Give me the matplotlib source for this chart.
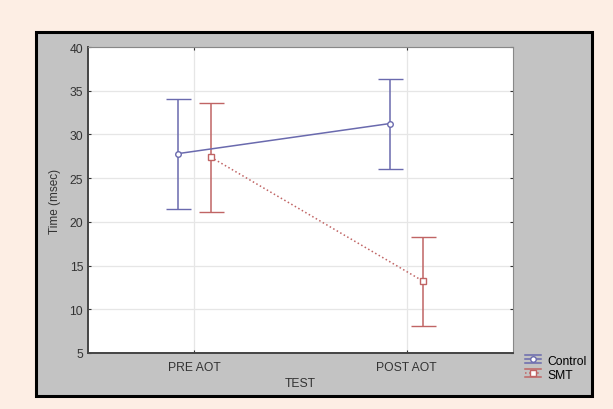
import matplotlib.pyplot as plt
from matplotlib.patches import Rectangle
from matplotlib.legend_handler import HandlerBase
from matplotlib.lines import Line2D
import numpy as np

# data
tests = ["PRE AOT", "POST AOT"]
control_mean = [27.8, 31.25]
control_low = [21.5, 26.1]
control_high = [34.1, 36.3]
smt_mean = [27.4, 13.2]
smt_low = [21.1, 8.05]
smt_high = [33.6, 18.25]
yticks = [5, 10, 15, 20, 25, 30, 35, 40]

plt.rcParams['font.family'] = ['Liberation Sans', 'DejaVu Sans']


class StackedBarHandler(HandlerBase):
    """legend key like the Statistica one: three bars with the marker in the middle"""
    def create_artists(self, legend, orig, xd, yd, w, h, fontsize, trans):
        c = orig.get_color()
        arts = []
        for frac in (0.95, 0.5, 0.05):
            ls = orig.get_linestyle() if frac == 0.5 else '-'
            arts.append(Line2D([xd, xd + w], [yd + h * frac] * 2, color=c, lw=1.1,
                               ls=ls, transform=trans))
        arts.append(Line2D([xd + w / 2], [yd + h / 2], marker=orig.get_marker(), ms=4,
                           mfc='white', mec=c, mew=1.0, ls='none', transform=trans))
        return arts


fig = plt.figure(figsize=(6.13, 4.10), dpi=100)
fig.patch.set_facecolor('#fdeee4')

# grey framed panel behind the plot
panel = Rectangle((0.058, 0.032), 0.908, 0.887, transform=fig.transFigure,
                  facecolor='#c3c3c3', edgecolor='black', linewidth=2.2, zorder=-10)
fig.add_artist(panel)

ax = fig.add_axes([0.1436, 0.1366, 0.6933, 0.7463])
ax.set_facecolor('white')

x = np.arange(len(tests))
off = 0.078
blue = '#6a6aae'
red = '#c06464'

cm = np.array(control_mean)
ctl = ax.errorbar(x - off, cm, yerr=[cm - np.array(control_low), np.array(control_high) - cm],
                  color=blue, lw=1.1, capsize=9, capthick=1.1, marker='o', ms=4,
                  mfc='white', mec=blue, mew=1.0, label='Control')
sm = np.array(smt_mean)
smt = ax.errorbar(x + off, sm, yerr=[sm - np.array(smt_low), np.array(smt_high) - sm],
                  color=red, lw=1.1, ls=':', capsize=9, capthick=1.1, marker='s', ms=4,
                  mfc='white', mec=red, mew=1.0, label='SMT')
smt[2][0].set_linestyle('-')

ax.set_xlim(-0.5, 1.5)
ax.set_ylim(5, 40)
ax.set_xticks(x)
ax.set_xticklabels(tests)
ax.set_yticks(yticks)
ax.grid(True, color='#e6e6e6', lw=0.9)
ax.set_axisbelow(True)
ax.tick_params(labelsize=8.7, colors='#333333', length=2, right=True, top=True, direction='in')
ax.tick_params(axis='x', pad=6)
for s in ['left', 'bottom']:
    ax.spines[s].set_color('#444444')
    ax.spines[s].set_linewidth(1.4)
for s in ['top', 'right']:
    ax.spines[s].set_color('#888888')
    ax.spines[s].set_linewidth(0.8)

ax.set_xlabel("TEST", fontsize=8.7, color='#333333', labelpad=3)
ax.set_ylabel("Time (msec)", fontsize=8.5, color='#333333', labelpad=6)

ax.legend(handles=[ctl[0], smt[0]], labels=['Control', 'SMT'],
          handler_map={Line2D: StackedBarHandler()},
          loc='lower left', bbox_to_anchor=(1.012, -0.115),
          frameon=False, fontsize=8.7, handlelength=1.3, handleheight=0.8,
          handletextpad=0.5, labelspacing=0.15, borderaxespad=0.2)

fig.savefig('out.png', dpi=100, facecolor=fig.get_facecolor())
